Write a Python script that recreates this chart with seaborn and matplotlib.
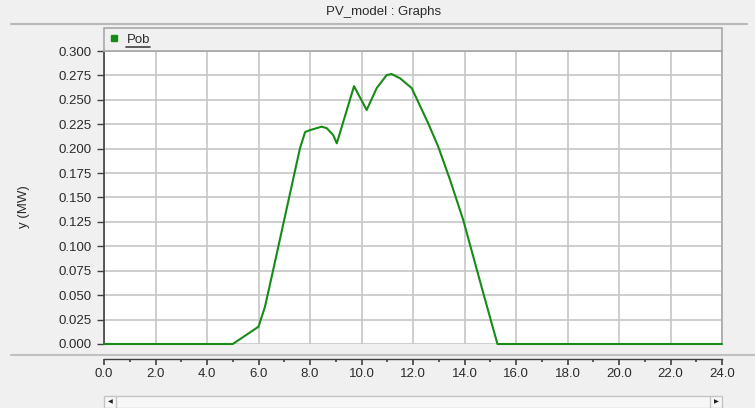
import matplotlib
matplotlib.use("Agg")
import matplotlib.pyplot as plt
import seaborn as sns
from matplotlib.lines import Line2D
from matplotlib.patches import Rectangle
from matplotlib.ticker import MultipleLocator

# PV output over the day (hour, MW)
hours = [0.0, 5.0, 6.0, 6.25, 6.57, 7.61, 7.81, 8.0, 8.26, 8.45, 8.65, 8.9, 9.04,
         9.71, 10.2, 10.59, 10.98, 11.17, 11.5, 11.95, 12.59, 12.98, 13.44,
         13.95, 14.73, 15.28, 24.0]
power = [0.0, 0.0, 0.0177, 0.038, 0.0758, 0.2004, 0.217, 0.219, 0.221, 0.2225,
         0.221, 0.214, 0.2055, 0.264, 0.2396, 0.262, 0.2754, 0.2764, 0.272,
         0.262, 0.226, 0.202, 0.168, 0.127, 0.052, 0.0, 0.0]
series_name = "Pob"
window_title = "PV_model : Graphs"
y_label = "y (MW)"

BG = "#f0f0f0"
TXT = "#2b2b2b"
GREEN = "#168c16"
FS = 9.5

sns.set_style("white")
plt.rcParams["font.family"] = ["Liberation Sans", "DejaVu Sans"]

W, H = 755, 408
fig = plt.figure(figsize=(W / 100, H / 100), dpi=100, facecolor=BG)

# plot box in pixel terms: x 104..722, y 51..344
ax = fig.add_axes([104 / W, (H - 344) / H, 618 / W, 293 / H])
ax.set_facecolor("white")

sns.lineplot(x=hours, y=power, ax=ax, color=GREEN, linewidth=1.5,
             label=series_name, clip_on=False, zorder=5)

ax.set_xlim(0, 24)
ax.set_ylim(0, 0.3)
ax.xaxis.set_major_locator(MultipleLocator(2))
ax.xaxis.set_minor_locator(MultipleLocator(1))
ax.yaxis.set_major_locator(MultipleLocator(0.025))
ax.set_xticklabels([f"{v:.1f}" for v in ax.get_xticks()])
ax.set_yticklabels([f"{v:.3f}" for v in ax.get_yticks()])

ax.grid(True, which="major", color="#c6c6c6", linewidth=1.2)
ax.set_axisbelow(True)

for side in ["top", "right"]:
    ax.spines[side].set_color("#a8a8a8")
    ax.spines[side].set_linewidth(1.2)
ax.spines["left"].set_color("#404040")
ax.spines["left"].set_linewidth(1.2)
ax.spines["bottom"].set_position(("outward", 10.8))
ax.spines["bottom"].set_color("#404040")
ax.spines["bottom"].set_linewidth(1.0)

ax.tick_params(axis="y", direction="out", left=True, length=5, width=1,
               color="#404040", labelsize=FS, labelcolor=TXT, pad=4)
ax.tick_params(axis="x", which="major", direction="out", bottom=True, length=4,
               width=1.2, color="#404040", labelsize=FS, labelcolor=TXT, pad=2.5)
ax.tick_params(axis="x", which="minor", direction="out", bottom=True, length=2.5,
               width=1.2, color="#404040")

ax.set_xlabel("")
ax.set_ylabel(y_label, fontsize=FS, color=TXT, labelpad=0)
ax.yaxis.set_label_coords(-0.12, 0.47)

handle = Line2D([], [], marker="s", color=GREEN, linestyle="none", markersize=4.5)
leg = ax.legend([handle], [series_name], loc="lower left", mode="expand",
                bbox_to_anchor=(0, 1.0, 1.0, 0.075), borderaxespad=0,
                fontsize=FS, handlelength=0.7, handletextpad=0.6, borderpad=0.4,
                fancybox=False, framealpha=1, facecolor=BG, edgecolor="#a8a8a8")
leg.get_frame().set_linewidth(1.2)
for t in leg.get_texts():
    t.set_color(TXT)

# underline under the legend label, like the window's link style
fig.canvas.draw()
bb = leg.get_texts()[0].get_window_extent().transformed(fig.transFigure.inverted())
fig.add_artist(Line2D([bb.x0, bb.x1], [bb.y0 - 0.002, bb.y0 - 0.002],
                      transform=fig.transFigure, color="#404040", linewidth=1.2))

# window chrome: title bar, separator, scroll bar
fig.text(384 / W, 1 - 12 / H, window_title, ha="center", va="center",
         fontsize=FS, color=TXT)
fig.add_artist(Line2D([11 / W, 747 / W], [1 - 24 / H, 1 - 24 / H],
                      transform=fig.transFigure, color="#b8b8b8", linewidth=1.5))
fig.add_artist(Line2D([11 / W, 1], [1 - 355 / H, 1 - 355 / H],
                      transform=fig.transFigure, color="#c0c0c0", linewidth=1.5))
fig.add_artist(Rectangle((104 / W, 0), 618 / W, 12 / H, transform=fig.transFigure,
                         facecolor="#f7f7f7", edgecolor="#c4c4c4", linewidth=1))
fig.add_artist(Line2D([116 / W, 116 / W], [0, 12 / H], transform=fig.transFigure,
                      color="#c4c4c4", linewidth=1))
fig.add_artist(Line2D([710 / W, 710 / W], [0, 12 / H], transform=fig.transFigure,
                      color="#c4c4c4", linewidth=1))
fig.text(110 / W, 6 / H, "\u25c0", ha="center", va="center", fontsize=4.5,
         color="#202020", family="DejaVu Sans")
fig.text(716 / W, 6 / H, "\u25b6", ha="center", va="center", fontsize=4.5,
         color="#202020", family="DejaVu Sans")

fig.savefig("out.png", dpi=100, facecolor=BG)
